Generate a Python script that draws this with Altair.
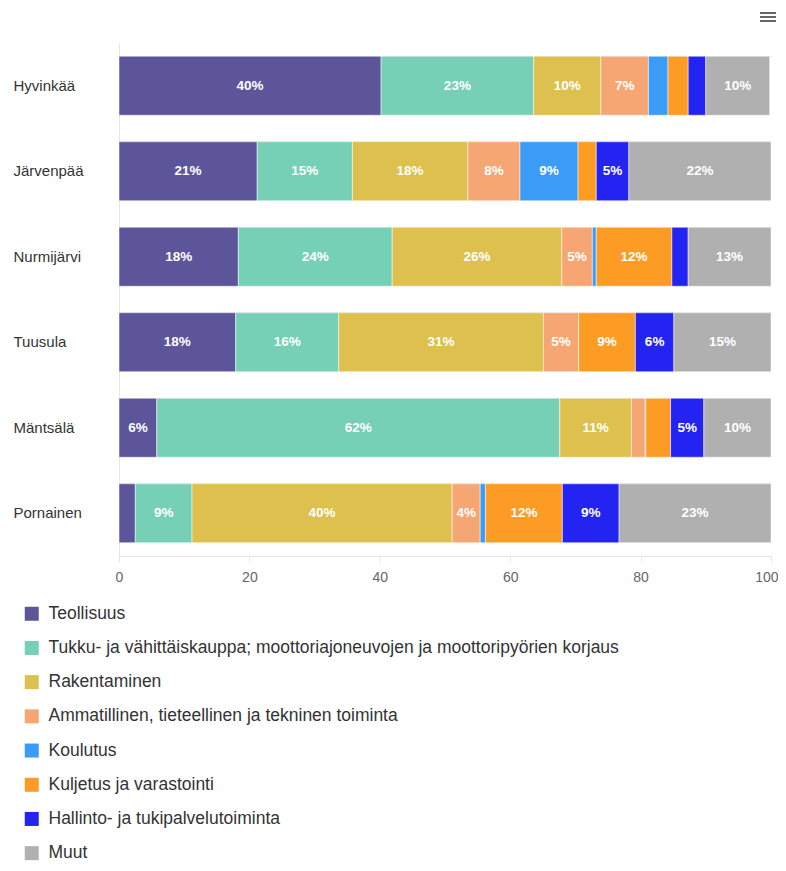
import altair as alt
import pandas as pd

kunnat = ["Hyvinkää", "Järvenpää", "Nurmijärvi", "Tuusula", "Mäntsälä", "Pornainen"]

toimialat = [
    "Teollisuus",
    "Tukku- ja vähittäiskauppa; moottoriajoneuvojen ja moottoripyörien korjaus",
    "Rakentaminen",
    "Ammatillinen, tieteellinen ja tekninen toiminta",
    "Koulutus",
    "Kuljetus ja varastointi",
    "Hallinto- ja tukipalvelutoiminta",
    "Muut",
]

varit = ["#5d559a", "#76d0b5", "#ddc04e", "#f5a673", "#3b9cf7", "#fd9c24", "#2424f2", "#b0b0b0"]

teollisuus = [40.2, 21.2, 18.3, 17.9, 5.8, 2.5]
kauppa = [23.4, 14.6, 23.6, 15.8, 61.8, 8.7]
rakentaminen = [10.3, 17.7, 26.0, 31.4, 11.0, 39.9]
ammatillinen = [7.3, 8.0, 4.7, 5.4, 2.1, 4.3]
koulutus = [3.0, 8.9, 0.6, 0.0, 0.1, 0.8]
kuljetus = [3.1, 2.8, 11.6, 8.7, 3.8, 11.8]
hallinto = [2.7, 5.0, 2.5, 5.9, 5.1, 8.7]
muut = [9.8, 21.8, 12.7, 14.9, 10.3, 23.3]

sarjat = [teollisuus, kauppa, rakentaminen, ammatillinen, koulutus, kuljetus, hallinto, muut]

rows = []
for si, (nimi, arvot) in enumerate(zip(toimialat, sarjat)):
    for ki, kunta in enumerate(kunnat):
        rows.append({"kunta": kunta, "toimiala": nimi, "arvo": arvot[ki], "jarjestys": si})
df = pd.DataFrame(rows)

FONT = "Liberation Sans"

base = alt.Chart(df).transform_stack(
    stack="arvo", groupby=["kunta"], as_=["x0", "x1"],
    sort=[alt.SortField("jarjestys", order="ascending")],
).transform_calculate(
    mid="(datum.x0 + datum.x1) / 2",
    label="format(datum.arvo, '.0f') + '%'",
)

bars = base.mark_bar(stroke="white", strokeWidth=0.5).encode(
    y=alt.Y("kunta:N", sort=kunnat, title=None,
            scale=alt.Scale(paddingInner=0.31, paddingOuter=0.155),
            axis=alt.Axis(labelAlign="left", labelPadding=106, ticks=False, tickSize=0,
                          labelFont=FONT, labelFontSize=15, labelColor="#333333",
                          domain=True, domainColor="#e6e6e6",
                          grid=True, gridColor="#e6e6e6", bandPosition=0)),
    x=alt.X("x0:Q", title=None,
            scale=alt.Scale(domain=[0, 100], nice=False),
            axis=alt.Axis(values=[0, 20, 40, 60, 80, 100], grid=False,
                          domainColor="#e6e6e6", tickColor="#e6e6e6", tickSize=6,
                          labelFont=FONT, labelFontSize=14, labelColor="#666666",
                          labelFlush=False, labelPadding=8,
                          labelAlign=alt.ExprRef(expr="datum.value == 100 ? 'right' : 'center'"),
                          labelOffset=alt.ExprRef(expr="datum.value == 100 ? 7 : 0"))),
    x2="x1:Q",
    color=alt.Color("toimiala:N", sort=toimialat,
                    scale=alt.Scale(domain=toimialat, range=varit),
                    legend=alt.Legend(title=None, orient="none", direction="vertical",
                                      legendX=-96, legendY=562,
                                      symbolType="square", symbolSize=196,
                                      symbolStrokeWidth=0, symbolOpacity=1,
                                      labelFont=FONT, labelFontSize=17.5,
                                      labelColor="#333333", labelOffset=8,
                                      rowPadding=15.2, labelLimit=700)),
    order=alt.Order("jarjestys:Q"),
)

labels = base.transform_filter("datum.arvo >= 3.95").mark_text(
    color="white", fontWeight="bold", font=FONT, fontSize=13.5,
).encode(
    y=alt.Y("kunta:N", sort=kunnat),
    x=alt.X("mid:Q"),
    text="label:N",
)

icon_rows = [
    alt.Chart(df).mark_rule(color="#666666", strokeWidth=2, opacity=0.7).encode(
        x=alt.value(641), x2=alt.value(657), y=alt.value(yy))
    for yy in (-30, -26, -22)
]

chart = alt.layer(bars, labels, *icon_rows).properties(
    width=652, height=513,
    autosize=alt.AutoSizeParams(type="none"),
    padding={"left": 111, "top": 35, "right": 7, "bottom": 307},
).configure_view(stroke=None)

chart.save("out.html", embed_options={"renderer": "svg", "actions": False})
